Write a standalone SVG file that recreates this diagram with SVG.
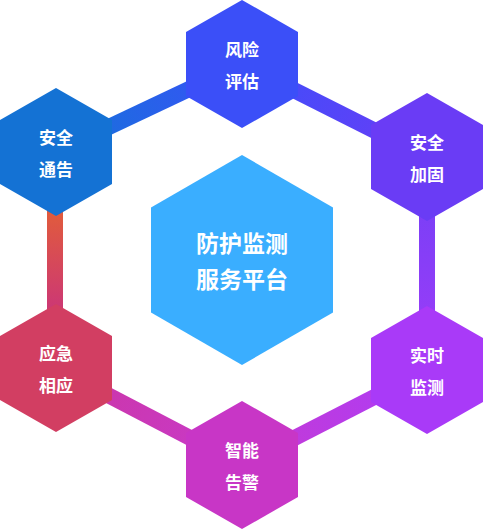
<svg xmlns="http://www.w3.org/2000/svg" xmlns:xlink="http://www.w3.org/1999/xlink" width="483" height="530" viewBox="0 0 483 530">
<style>
.t{font-family:"Noto Sans CJK SC","Noto Sans",sans-serif;font-weight:bold;fill:#fff;text-anchor:middle;dominant-baseline:central}
.s{font-size:17px}
.b{font-size:23px}
.c{fill:none;stroke-width:16}
</style>
<defs>
<polygon id="hx" points="0,-64 56,-32 56,32 0,64 -56,32 -56,-32"/>
<linearGradient id="g1" gradientUnits="userSpaceOnUse" x1="56" y1="152" x2="242" y2="64"><stop offset="0" stop-color="#1474d8"/><stop offset="1" stop-color="#3a50f9"/></linearGradient>
<linearGradient id="g2" gradientUnits="userSpaceOnUse" x1="242" y1="64" x2="427" y2="157"><stop offset="0" stop-color="#3d4ffa"/><stop offset="1" stop-color="#6a3cf6"/></linearGradient>
<linearGradient id="g3" gradientUnits="userSpaceOnUse" x1="427" y1="157" x2="427" y2="370"><stop offset="0" stop-color="#7040f6"/><stop offset="1" stop-color="#a03cf8"/></linearGradient>
<linearGradient id="g4" gradientUnits="userSpaceOnUse" x1="427" y1="370" x2="242" y2="465"><stop offset="0" stop-color="#ac3cf8"/><stop offset="1" stop-color="#c63ad2"/></linearGradient>
<linearGradient id="g5" gradientUnits="userSpaceOnUse" x1="242" y1="465" x2="56" y2="368"><stop offset="0" stop-color="#c83acc"/><stop offset="1" stop-color="#cc36a4"/></linearGradient>
<linearGradient id="g6" gradientUnits="userSpaceOnUse" x1="55" y1="215" x2="55" y2="305"><stop offset="0" stop-color="#e05a3e"/><stop offset="1" stop-color="#cd3972"/></linearGradient>
</defs>
<g id="connectors">
<line class="c" x1="56" y1="152" x2="242" y2="64" stroke="url(#g1)"/>
<line class="c" x1="242" y1="64" x2="427" y2="157" stroke="url(#g2)"/>
<line class="c" x1="427" y1="157" x2="427" y2="370" stroke="url(#g3)"/>
<line class="c" x1="427" y1="370" x2="242" y2="465" stroke="url(#g4)"/>
<line class="c" x1="242" y1="465" x2="56" y2="368" stroke="url(#g5)"/>
<line class="c" x1="55" y1="152" x2="55" y2="368" stroke="url(#g6)"/>
</g>
<g id="n-center" transform="translate(242,260)">
<polygon points="0,-105 91,-52.5 91,52.5 0,105 -91,52.5 -91,-52.5" fill="#3aaeff"/>
<text class="t b" x="0" y="-18">防护监测</text>
<text class="t b" x="0" y="18">服务平台</text>
</g>
<g id="n-risk" transform="translate(242,64)">
<use xlink:href="#hx" fill="#3b4ff8"/>
<text class="t s" x="0" y="-16">风险</text>
<text class="t s" x="0" y="16">评估</text>
</g>
<g id="n-harden" transform="translate(427,157)">
<use xlink:href="#hx" fill="#6a3cf5"/>
<text class="t s" x="0" y="-16">安全</text>
<text class="t s" x="0" y="16">加固</text>
</g>
<g id="n-monitor" transform="translate(427,370)">
<use xlink:href="#hx" fill="#a93af8"/>
<text class="t s" x="0" y="-16">实时</text>
<text class="t s" x="0" y="16">监测</text>
</g>
<g id="n-alert" transform="translate(242,465)">
<use xlink:href="#hx" fill="#c836c6"/>
<text class="t s" x="0" y="-16">智能</text>
<text class="t s" x="0" y="16">告警</text>
</g>
<g id="n-response" transform="translate(56,368)">
<use xlink:href="#hx" fill="#d23e62"/>
<text class="t s" x="0" y="-16">应急</text>
<text class="t s" x="0" y="16">相应</text>
</g>
<g id="n-notice" transform="translate(56,152)">
<use xlink:href="#hx" fill="#1472d4"/>
<text class="t s" x="0" y="-16">安全</text>
<text class="t s" x="0" y="16">通告</text>
</g>
</svg>
